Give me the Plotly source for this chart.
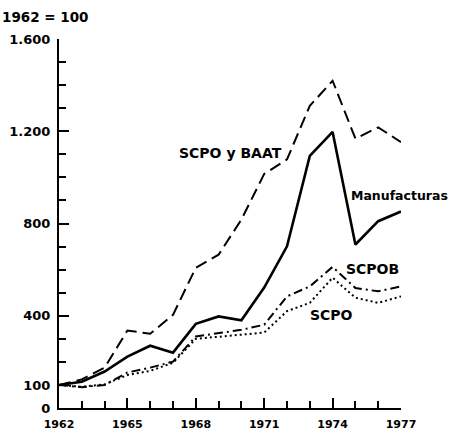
import plotly.graph_objects as go

years = list(range(1962, 1978))
manufacturas = [100, 114, 158, 223, 270, 240, 365, 397, 380, 522, 701, 1093, 1197, 709, 810, 852]
scpo_baat = [100, 124, 175, 336, 322, 404, 608, 665, 817, 1015, 1078, 1310, 1419, 1168, 1217, 1153]
scpob = [100, 90, 100, 154, 175, 201, 310, 325, 339, 361, 484, 527, 612, 520, 506, 527]
scpo = [100, 92, 102, 143, 161, 196, 300, 310, 317, 327, 420, 456, 565, 478, 456, 484]

y_tickvals = [0, 100, 400, 800, 1200, 1600]
y_ticktext = ["0", "100", "400", "800", "1.200", "1.600"]
x_tickvals = [1962, 1965, 1968, 1971, 1974, 1977]
x_ticktext = ["1962", "1965", "1968", "1971", "1974", "1977"]

labels = ["SCPO y BAAT", "SCPOB", "SCPO"]
label_x = [1969.5, 1975.75, 1973.97]
label_y = [1104, 604, 404]
manuf_label = "Manufacturas"
manuf_label_y = 922

FONT = "DejaVu Sans"

fig = go.Figure()
fig.add_trace(go.Scatter(x=years, y=scpo_baat, mode="lines",
                         line=dict(color="black", width=2, dash="12px,6px")))
fig.add_trace(go.Scatter(x=years, y=manufacturas, mode="lines",
                         line=dict(color="black", width=2.6)))
fig.add_trace(go.Scatter(x=years, y=scpob, mode="lines",
                         line=dict(color="black", width=2, dash="9px,4px,2px,4px")))
fig.add_trace(go.Scatter(x=years, y=scpo, mode="lines",
                         line=dict(color="black", width=2, dash="2px,3px")))

for t, lx, ly in zip(labels, label_x, label_y):
    fig.add_annotation(x=lx, y=ly, xref="x", yref="y", text=t, showarrow=False,
                       xanchor="center", yanchor="middle",
                       font=dict(family=FONT, size=14, color="black", weight="bold"))

fig.add_annotation(x=1.0, y=manuf_label_y, xref="paper", yref="y", text=manuf_label,
                   showarrow=False, xanchor="right", yanchor="middle", xshift=49,
                   font=dict(family=FONT, size=12.5, color="black", weight="bold"))

fig.add_annotation(x=0, y=1.06, xref="paper", yref="paper", text="1962 = 100",
                   showarrow=False, xanchor="left", yanchor="middle", xshift=-59,
                   font=dict(family=FONT, size=13.5, color="black", weight="bold"))

fig.update_layout(
    width=451, height=432,
    margin=dict(l=59, r=50, t=39, b=24, autoexpand=False),
    paper_bgcolor="white", plot_bgcolor="white",
    showlegend=False,
    font=dict(family=FONT, size=12, color="black", weight="bold"),
    xaxis=dict(range=[1962, 1977], tickvals=x_tickvals, ticktext=x_ticktext,
               ticks="inside", ticklen=10, tickwidth=2, tickcolor="black",
               showline=True, linecolor="black", linewidth=2,
               showgrid=False, zeroline=False, automargin=False,
               minor=dict(dtick=1, tick0=1962, ticks="inside", ticklen=7,
                          tickwidth=1.5, tickcolor="black", showgrid=False),
               tickfont=dict(family=FONT, size=11, color="black", weight="bold"),
               ticklabelstandoff=5),
    yaxis=dict(range=[0, 1600], tickvals=y_tickvals, ticktext=y_ticktext,
               ticks="inside", ticklen=10, tickwidth=2, tickcolor="black",
               showline=True, linecolor="black", linewidth=2,
               showgrid=False, zeroline=False, automargin=False,
               minor=dict(dtick=100, tick0=0, ticks="inside", ticklen=7,
                          tickwidth=1.5, tickcolor="black", showgrid=False),
               tickfont=dict(family=FONT, size=13, color="black", weight="bold"),
               ticklabelstandoff=4),
)

fig.write_html("out.html", config={"displayModeBar": False},
               post_script="document.body.style.margin='0';")
